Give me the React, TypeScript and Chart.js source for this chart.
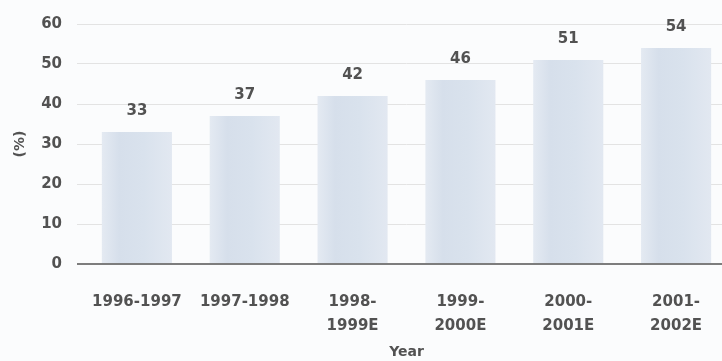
import React, { useEffect, useRef } from 'react';
import { Chart, registerables } from 'chart.js';

Chart.register(...registerables);

// Fiscal-year categories (multi-line where the label wraps)
const categories: (string | string[])[] = [
  '1996-1997',
  '1997-1998',
  ['1998-', '1999E'],
  ['1999-', '2000E'],
  ['2000-', '2001E'],
  ['2001-', '2002E'],
];
// Share in percent for each year
const shareValues: number[] = [33, 37, 42, 46, 51, 54];
// Value axis range
const yMin = 0;
const yMax = 60;
const yStep = 10;

const FONT = '"DejaVu Sans", sans-serif';
const TEXT = '#525252';
const BAR_BASE = '#d9e2ed';

// Prints each bar's value above it
const valueLabels = {
  id: 'valueLabels',
  afterDatasetsDraw(chart: any) {
    const { ctx } = chart;
    const meta = chart.getDatasetMeta(0);
    const data = chart.data.datasets[0].data as number[];
    ctx.save();
    ctx.font = `bold 15px ${FONT}`;
    ctx.fillStyle = TEXT;
    ctx.textAlign = 'center';
    ctx.textBaseline = 'middle';
    meta.data.forEach((bar: any, i: number) => {
      ctx.fillText(String(data[i]), bar.x, bar.y - 21);
    });
    ctx.restore();
  },
};

export default function App() {
  const canvasRef = useRef<HTMLCanvasElement | null>(null);

  useEffect(() => {
    const canvas = canvasRef.current;
    if (!canvas) return;

    // Soft horizontal shading across each bar
    const barFill = (c: any) => {
      const chart = c.chart;
      const xs = chart.scales && chart.scales.x;
      if (!xs || c.dataIndex === undefined) return BAR_BASE;
      const cx = xs.getPixelForValue(c.dataIndex);
      const half = xs.width / categories.length * 0.65 / 2;
      if (!isFinite(cx) || !isFinite(half) || half <= 0) return BAR_BASE;
      const g = chart.ctx.createLinearGradient(cx - half, 0, cx + half, 0);
      g.addColorStop(0, '#e4eaf2');
      g.addColorStop(0.25, '#d6dfeb');
      g.addColorStop(0.6, '#d9e2ed');
      g.addColorStop(1, '#e2e8f1');
      return g;
    };

    const chart = new Chart(canvas, {
      type: 'bar',
      data: {
        labels: categories,
        datasets: [
          {
            data: shareValues,
            backgroundColor: barFill,
            borderWidth: 0,
            categoryPercentage: 0.65,
            barPercentage: 1,
          },
        ],
      },
      options: {
        responsive: false,
        animation: false,
        devicePixelRatio: 1,
        layout: { padding: { top: 19, left: 0, right: 0, bottom: 0 } },
        plugins: {
          legend: { display: false },
          tooltip: { enabled: false },
        },
        scales: {
          x: {
            grid: { display: false },
            border: { display: false },
            ticks: {
              color: TEXT,
              font: { family: FONT, size: 15, weight: 'bold', lineHeight: 1.6 },
              padding: 18,
              maxRotation: 0,
              autoSkip: false,
            },
            title: {
              display: true,
              text: 'Year',
              color: TEXT,
              font: { family: FONT, size: 14, weight: 'bold' },
              padding: { top: 0, bottom: 0 },
            },
            afterFit(scale: any) {
              scale.height = 97;
            },
          },
          y: {
            min: yMin,
            max: yMax,
            border: { display: false },
            grid: {
              color: (c: any) => (c.tick && c.tick.value === 0 ? '#7d7d7d' : '#e3e3e3'),
              lineWidth: (c: any) => (c.tick && c.tick.value === 0 ? 2 : 1),
              tickLength: 6,
            },
            ticks: {
              stepSize: yStep,
              color: TEXT,
              font: { family: FONT, size: 15, weight: 'bold' },
              padding: 15,
            },
            title: {
              display: true,
              text: '(%)',
              color: TEXT,
              font: { family: FONT, size: 14, weight: 'bold' },
              padding: { top: 12, bottom: 0 },
            },
            afterFit(scale: any) {
              scale.width = 83;
            },
          },
        },
      },
      plugins: [valueLabels],
    });

    return () => chart.destroy();
  }, []);

  return (
    <div
      style={{
        position: 'fixed',
        left: 0,
        top: 0,
        width: 722,
        height: 361,
        overflow: 'hidden',
        background: '#fbfcfd',
      }}
    >
      <canvas ref={canvasRef} width={730} height={361} style={{ display: 'block' }} />
    </div>
  );
}
